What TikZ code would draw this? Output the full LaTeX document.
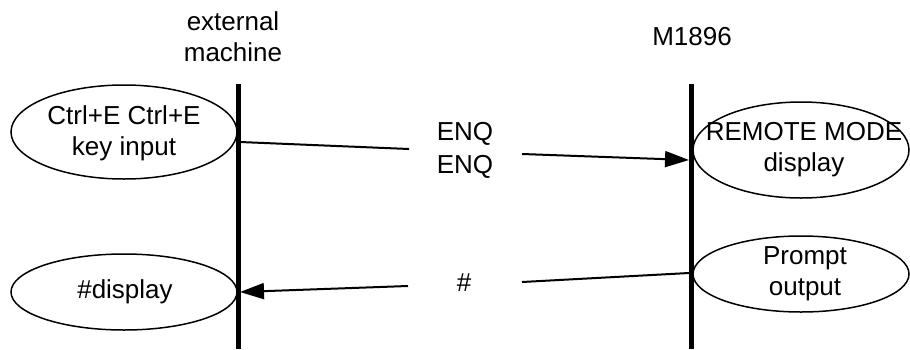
\documentclass[tikz,border=0pt]{standalone}
\usepackage{fontspec}
\setmainfont{Liberation Sans}
\usetikzlibrary{shapes.geometric,arrows.meta}
\begin{document}
\begin{tikzpicture}[x=1bp,y=-1bp,
  oval/.style={draw,ellipse,line width=1.5bp,inner sep=0pt},
  txt/.style={align=center,inner sep=0pt,font=\fontsize{26bp}{31bp}\selectfont},
  bar/.style={line width=5bp},
  msg/.style={line width=2bp},
  arr/.style={line width=2bp,-{Triangle[length=24bp,width=16bp]}}]
\useasboundingbox (0,0) rectangle (910,349);
% lifelines
\coordinate (ltop) at (238,84);
\coordinate (lbot) at (238,349);
\coordinate (rtop) at (691,84);
\coordinate (rbot) at (691,349);
\draw[bar] (ltop) -- (lbot);
\draw[bar] (rtop) -- (rbot);
% headers
\node[txt] (hext) at (233,37) {external\\machine};
\node[txt] (hm) at (692,37) {M1896};
% ellipses
\node[oval,minimum width=226bp,minimum height=94bp] (e1) at (124,132) {};
\node[txt] (t1) at (124,133) {Ctrl+E Ctrl+E\\key input};
\node[oval,minimum width=216bp,minimum height=96bp] (e2) at (801,150) {};
\node[txt] (t2) at (804,150) {REMOTE MODE\\display};
\node[oval,minimum width=216bp,minimum height=76bp] (e3) at (801,274) {};
\node[txt] (t3) at (805,274) {Prompt\\output};
\node[oval,minimum width=226bp,minimum height=76bp] (e4) at (124,292) {};
\node[txt] (t4) at (125,292) {\#display};
% messages
\node[txt,font=\fontsize{26bp}{33bp}\selectfont] (enq) at (465,150) {ENQ\\ENQ};
\node[txt] (hash) at (464,283) {\#};
\coordinate (m1s) at (240,142);
\coordinate (m1a) at (409,149);
\coordinate (m1b) at (522,154);
\coordinate (m1e) at (689,160);
\draw[msg] (m1s) -- (m1a);
\draw[arr] (m1b) -- (m1e);
\coordinate (m2s) at (689,273);
\coordinate (m2a) at (522,282);
\coordinate (m2b) at (408,286);
\coordinate (m2e) at (240,292);
\draw[msg] (m2s) -- (m2a);
\draw[arr] (m2b) -- (m2e);
\end{tikzpicture}
\end{document}
